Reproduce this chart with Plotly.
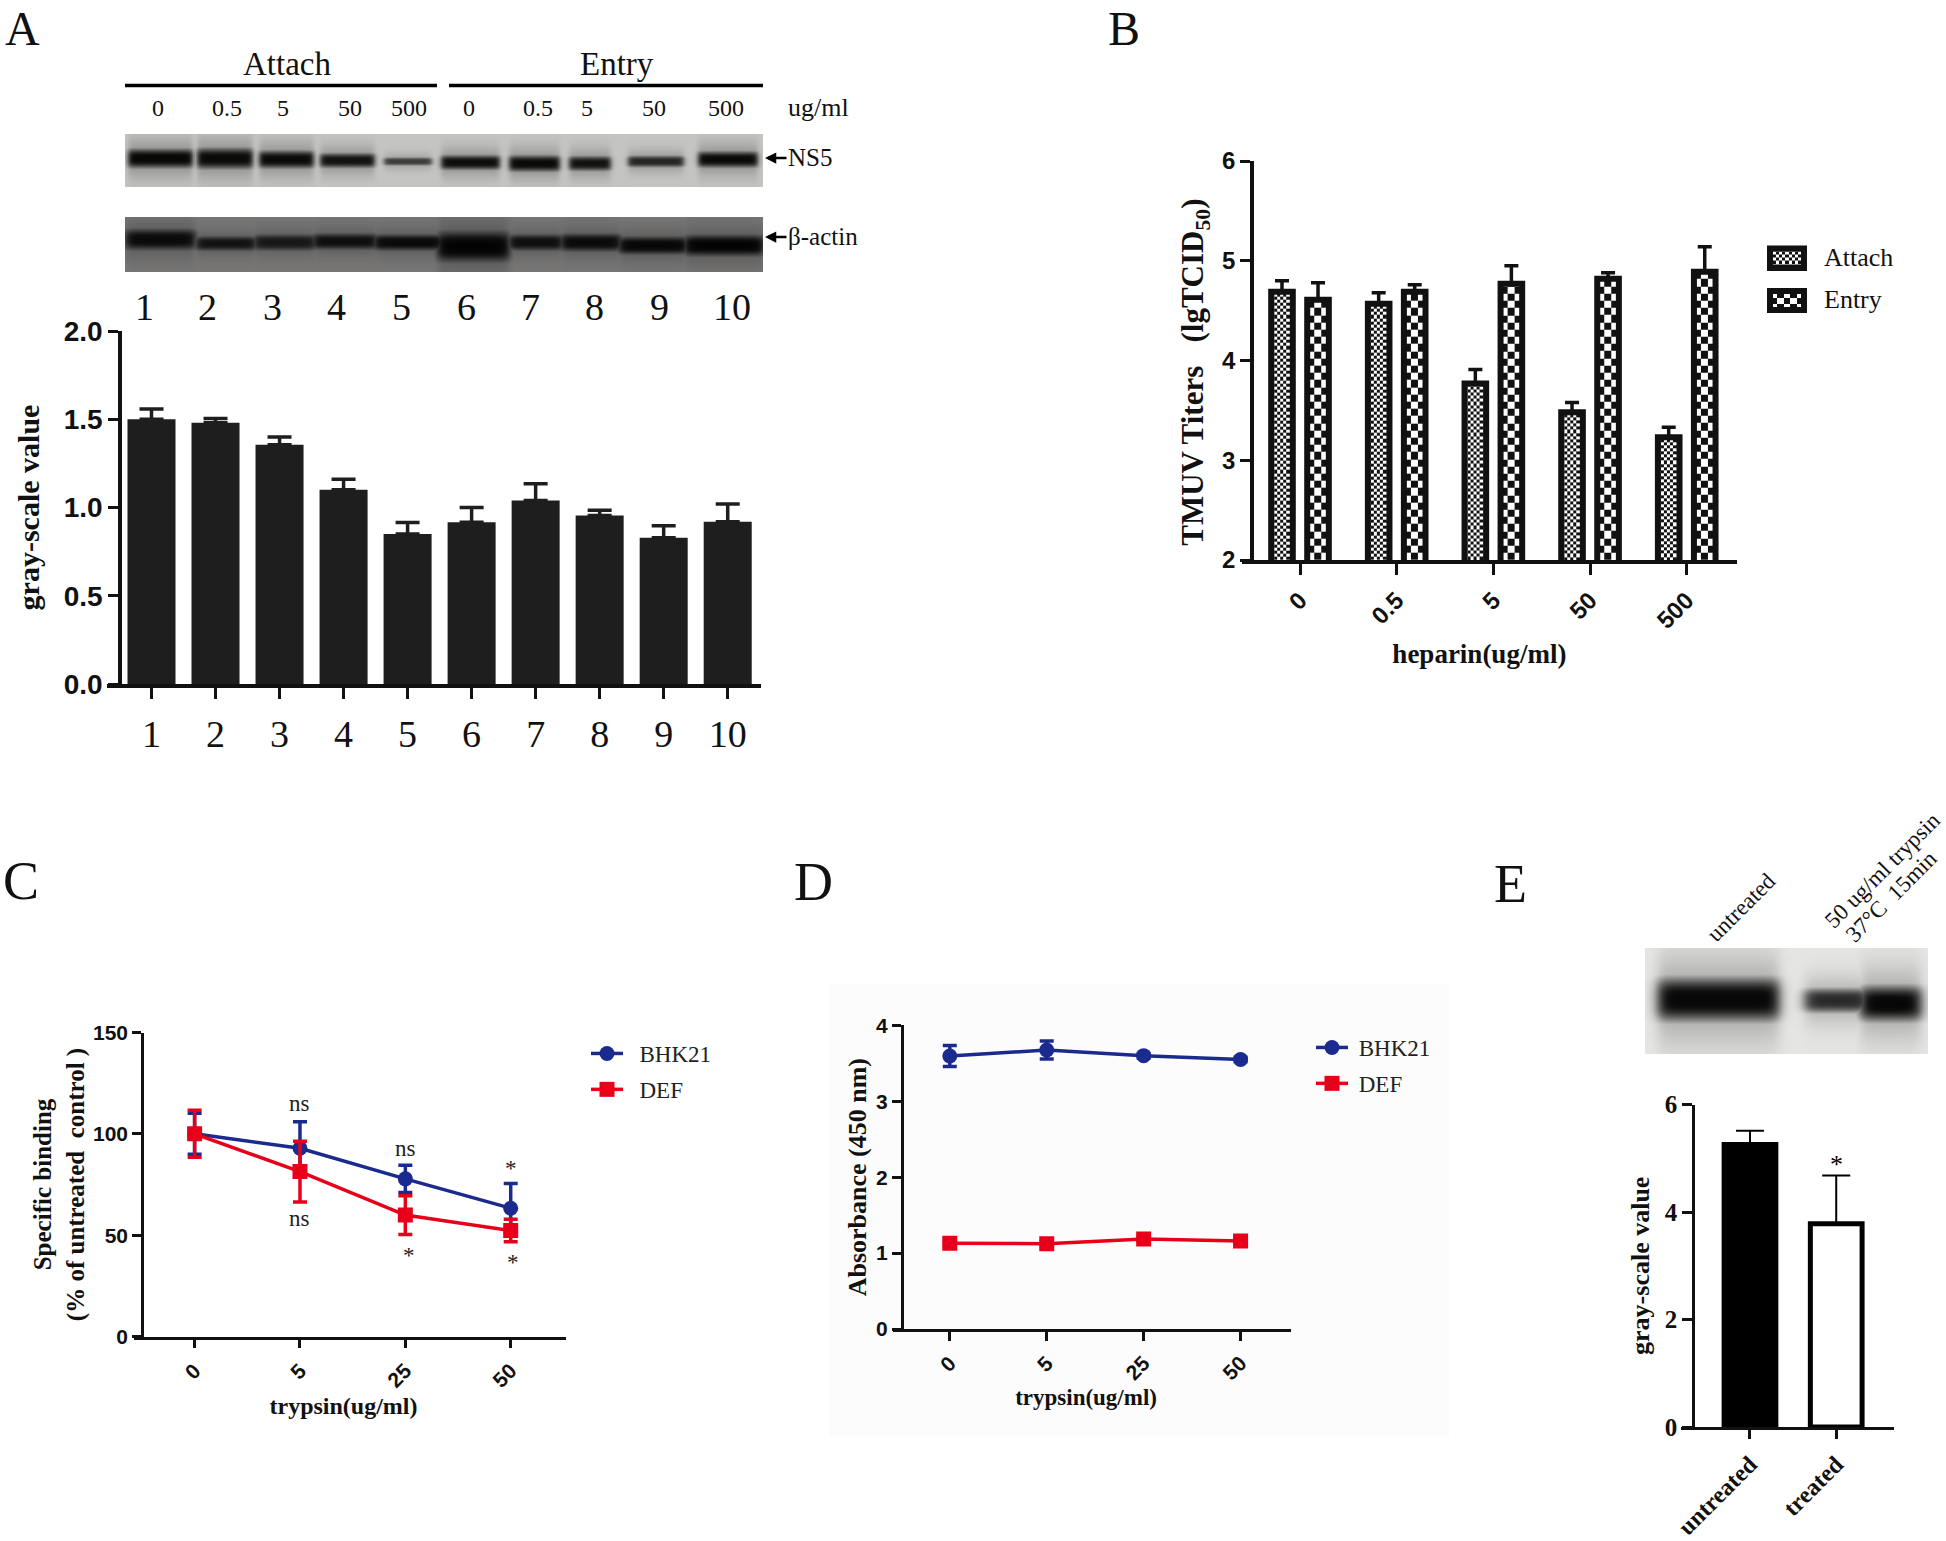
import numpy as np
import plotly.graph_objects as go

W, H = 1946, 1541
SERIF = "Liberation Serif"
SANS = "Liberation Sans"
BLUE = "#1B2A8E"
RED = "#E8001A"
INK = "#1E1E1E"
NB = "\u00a0"

# ---------- Panel A ----------
a_lanes = list(range(1, 11))
a_values = [1.50, 1.48, 1.355, 1.10, 0.85, 0.917, 1.04, 0.955, 0.828, 0.919]
a_errors = [0.058, 0.024, 0.045, 0.06, 0.065, 0.083, 0.094, 0.03, 0.068, 0.101]
a_doses = ["0", "0.5", "5", "50", "500", "0", "0.5", "5", "50", "500"]
a_dose_px = [158, 227, 283, 350, 409, 469, 538, 587, 654, 726]
a_lane_label_px = [144, 207, 272, 336, 401, 466, 530, 594, 659, 732]

# blot bands: left px, right px, centre y px, thickness, darkest gray
ns5_left = [128, 197, 259, 320, 384, 441, 509, 569, 628, 698]
ns5_right = [192, 252, 313, 374, 431, 499, 559, 610, 683, 757]
ns5_y = [158, 158, 159, 160, 161, 162, 163, 163, 161, 159]
ns5_th = [12, 13, 11, 9, 5, 9, 10, 9, 7, 10]
ns5_dark = [10, 15, 15, 25, 70, 20, 15, 25, 45, 15]
actin_left = [125, 195, 253, 312, 373, 437, 508, 560, 618, 684]
actin_right = [195, 256, 316, 377, 443, 509, 563, 621, 687, 763]
actin_y = [239, 243, 242, 241, 242, 246, 242, 242, 245, 245]
actin_th = [13, 9, 10, 10, 10, 19, 10, 11, 11, 13]
actin_dark = [15, 25, 30, 20, 15, 5, 20, 15, 10, 5]

# ---------- Panel B ----------
b_doses = ["0", "0.5", "5", "50", "500"]
b_attach = [4.69, 4.57, 3.77, 3.48, 3.23]
b_attach_err = [0.11, 0.11, 0.14, 0.10, 0.10]
b_entry = [4.61, 4.69, 4.77, 4.82, 4.89]
b_entry_err = [0.17, 0.07, 0.18, 0.06, 0.25]

# ---------- Panel C ----------
c_doses = ["0", "5", "25", "50"]
c_bhk = [100, 92.9, 77.8, 63.3]
c_bhk_err = [10.1, 13.1, 6.7, 12.2]
c_def = [100, 81.4, 59.9, 52.3]
c_def_err = [11.6, 15.0, 9.6, 5.6]
c_notes = ["ns", "ns", "ns", "*", "*", "*"]
c_note_x = [1, 1, 2, 3, 2.03, 3.02]
c_note_y = [115, 58, 92.6, 83, 40, 36.5]

# ---------- Panel D ----------
d_doses = ["0", "5", "25", "50"]
d_bhk = [3.596, 3.675, 3.60, 3.55]
d_bhk_err = [0.138, 0.118, 0.03, 0.03]
d_def = [1.128, 1.124, 1.185, 1.16]
d_def_err = [0.02, 0.02, 0.02, 0.02]

# ---------- Panel E ----------
e_groups = ["untreated", "treated"]
e_values = [5.255, 3.78]
e_errors = [0.255, 0.90]
e_left = [1658, 1805, 1860]
e_right = [1778, 1868, 1920]
e_y = [999, 1000, 1003]
e_th = [27, 15, 22]
e_dark = [10, 50, 8]


def fx(px):
    return px / W


def fy(py):
    return 1 - py / H


def ann(text, x, y, size, family=SERIF, bold=False, angle=0, anchor="center", color="#111"):
    if bold:
        text = f"<b>{text}</b>"
    return dict(text=text, x=fx(x), y=fy(y), xref="paper", yref="paper", showarrow=False,
                xanchor=anchor, yanchor="middle", textangle=angle,
                font=dict(family=family, size=size, color=color))


def arrow_label(text, head_x, y, offset, size):
    return dict(text=text, x=fx(head_x), y=fy(y), xref="paper", yref="paper", showarrow=True,
                ax=offset, ay=0, axref="pixel", ayref="pixel", arrowhead=2, arrowsize=0.9, arrowwidth=2.5,
                arrowcolor="#000", standoff=0, font=dict(family=SERIF, size=size, color="#111"))


def blot(left, right, yc, th, dark, x0, x1, y0, y1, bg, soft, xa, ya):
    xs = np.arange(x0, x1 + 1, 2.0)
    ys = np.arange(y0, y1 + 1, 1.0)
    z = np.full((len(ys), len(xs)), float(bg))
    for l, r, c, t, d in zip(left, right, yc, th, dark):
        ex = 0.5 * (np.tanh((xs - l) / soft) - np.tanh((xs - r) / soft))
        core = np.exp(-np.abs((ys - c) / (t * 0.78)) ** 3)
        halo = 0.25 * np.exp(-((ys - c) / (t * 1.6)) ** 2)
        amount = np.clip(np.outer(np.maximum(core, halo), ex), 0, 1)
        z = np.minimum(z, bg - (bg - d) * amount)
    return go.Heatmap(x=xs, y=ys, z=np.round(z).astype(int), zmin=0, zmax=255, zsmooth="best",
                      colorscale="Gray", showscale=False, hoverinfo="skip", xaxis=xa, yaxis=ya)


def checker(xc, half, y0, y1, dx, dy, xa, ya):
    nx = max(1, int(round(2 * half / dx)))
    ny = max(1, int(np.ceil((y1 - y0) / dy)))
    xe = np.linspace(xc - half, xc + half, nx + 1)
    ye = np.minimum(y0 + dy * np.arange(ny + 1), y1)
    z = (np.add.outer(np.arange(ny), np.arange(nx)) % 2)
    return go.Heatmap(x=xe, y=ye, z=z, zmin=0, zmax=1, colorscale=[[0, "white"], [1, "#111"]],
                      showscale=False, hoverinfo="skip", xaxis=xa, yaxis=ya)


fig = go.Figure()

# blots
fig.add_trace(blot(ns5_left, ns5_right, ns5_y, ns5_th, ns5_dark, 125, 763, 134, 187, 208, 3, "x6", "y6"))
fig.add_trace(blot(actin_left, actin_right, actin_y, actin_th, actin_dark, 125, 763, 217, 272, 135, 5, "x7", "y7"))
fig.add_trace(blot(e_left, e_right, e_y, e_th, e_dark, 1645, 1928, 948, 1054, 236, 7, "x8", "y8"))

# A
fig.add_trace(go.Bar(x=a_lanes, y=a_values, width=0.75, marker=dict(color=INK, line_width=0),
                     error_y=dict(type="data", array=a_errors, arrayminus=[0] * 10, symmetric=False,
                                  thickness=3.5, width=12, color=INK),
                     xaxis="x", yaxis="y", showlegend=False, hoverinfo="skip"))

# B
B_PX_PER_X = 96.6
B_PX_PER_Y = 99.75
B_OFF = 18 / B_PX_PER_X
B_HALF = 10.8 / B_PX_PER_X
for i, (va, ve) in enumerate(zip(b_attach, b_entry)):
    fig.add_trace(checker(i - B_OFF, B_HALF, 2, va, 2 * B_HALF / 7, 3.1 / B_PX_PER_Y, "x2", "y2"))
    fig.add_trace(checker(i + B_OFF, B_HALF, 2, ve, 2 * B_HALF / 3, 7.2 / B_PX_PER_Y, "x2", "y2"))
bar_line = dict(color="#111", width=6)
fig.add_trace(go.Bar(x=list(range(5)), y=b_attach, name="Attach", offsetgroup="a",
                     marker=dict(color="rgba(0,0,0,0)", line=bar_line),
                     error_y=dict(type="data", array=b_attach_err, arrayminus=[0] * 5, symmetric=False,
                                  thickness=3.5, width=7, color="#111"),
                     xaxis="x2", yaxis="y2", showlegend=False, hoverinfo="skip"))
fig.add_trace(go.Bar(x=list(range(5)), y=b_entry, name="Entry", offsetgroup="e",
                     marker=dict(color="rgba(0,0,0,0)", line=bar_line),
                     error_y=dict(type="data", array=b_entry_err, arrayminus=[0] * 5, symmetric=False,
                                  thickness=3.5, width=7, color="#111"),
                     xaxis="x2", yaxis="y2", showlegend=False, hoverinfo="skip"))
# B legend swatches, on an axis in pixels
fig.add_trace(checker(1787, 17, 248.5, 268, 34 / 11, 3.1, "x9", "y9"))
fig.add_trace(checker(1787, 17, 291, 310, 34 / 5, 6.5, "x9", "y9"))


def line_trace(xs, ys, err, name, color, symbol, xa, ya, legend, cap):
    return go.Scatter(x=xs, y=ys, mode="lines+markers", name=name, legend=legend, legendgroup=name + legend,
                      line=dict(color=color, width=3.5),
                      marker=dict(color=color, size=15, symbol=symbol),
                      error_y=dict(type="data", array=err, thickness=3.5, width=cap, color=color),
                      xaxis=xa, yaxis=ya, hoverinfo="skip")


fig.add_trace(line_trace(list(range(4)), c_bhk, c_bhk_err, NB * 2 + "BHK21", BLUE, "circle", "x3", "y3", "legend", 7))
fig.add_trace(line_trace(list(range(4)), c_def, c_def_err, NB * 2 + "DEF", RED, "square", "x3", "y3", "legend", 7))
fig.add_trace(line_trace(list(range(4)), d_bhk, d_bhk_err, NB + "BHK21", BLUE, "circle", "x4", "y4", "legend2", 7))
fig.add_trace(line_trace(list(range(4)), d_def, d_def_err, NB + "DEF", RED, "square", "x4", "y4", "legend2", 7))

# E
fig.add_trace(go.Bar(x=[0, 1], y=e_values, width=0.6,
                     marker=dict(color=["#000", "#fff"], line=dict(color="#000", width=5)),
                     error_y=dict(type="data", array=e_errors, arrayminus=[0, 0], symmetric=False,
                                  thickness=2, width=14, color="#000"),
                     xaxis="x5", yaxis="y5", showlegend=False, hoverinfo="skip"))


def xaxis_cfg(x0, x1, rng, anchor, ticktext, size, family, lw, tl, tw, angle=0, standoff=0, title=None, tsize=24, tstand=None, weight="bold"):
    cfg = dict(domain=[fx(x0), fx(x1)], range=rng, anchor=anchor, tickmode="array",
               tickvals=list(range(len(ticktext))), ticktext=ticktext, showgrid=False, zeroline=False,
               showline=True, linecolor="#111", linewidth=lw, ticks="outside", ticklen=tl, tickwidth=tw,
               tickcolor="#111", tickangle=angle, ticklabelstandoff=standoff,
               tickfont=dict(family=family, size=size, color="#111", weight=weight), fixedrange=True)
    if title:
        cfg["title"] = dict(text=f"<b>{title}</b>", standoff=tstand, font=dict(family=SERIF, size=tsize, color="#111"))
    return cfg


def yaxis_cfg(y_top, y_bot, rng, axis_x, dtick, size, family, lw, tl, tw, title, tsize, tstand, fmt=None):
    cfg = dict(domain=[fy(y_bot), fy(y_top)], range=rng, anchor="free", position=fx(axis_x), dtick=dtick, tick0=0,
               showgrid=False, zeroline=False, showline=True, linecolor="#111", linewidth=lw, ticks="outside",
               ticklen=tl, tickwidth=tw, tickcolor="#111",
               tickfont=dict(family=family, size=size, color="#111", weight="bold"),
               title=dict(text=title, standoff=tstand, font=dict(family=SERIF, size=tsize, color="#111")),
               fixedrange=True)
    if fmt:
        cfg["tickformat"] = fmt
    return cfg


def hidden(x0, x1, y0, y1, xid, yid):
    return {
        f"xaxis{xid}": dict(domain=[fx(x0), fx(x1)], range=[x0, x1], visible=False, anchor=f"y{yid}", fixedrange=True),
        f"yaxis{yid}": dict(domain=[fy(y1), fy(y0)], range=[y1, y0], visible=False, anchor=f"x{xid}", fixedrange=True),
    }


annotations = [
    ann("A", 22, 29, 48), ann("B", 1124, 29, 48), ann("C", 21, 881, 54), ann("D", 813, 882, 54), ann("E", 1510, 884, 54),
    ann("Attach", 287, 64, 33), ann("Entry", 617, 64, 33), ann("ug/ml", 818, 108, 26),
    arrow_label("NS5", 765, 158, 45, 25), arrow_label("β-actin", 765, 237, 58, 25),
    ann("Attach", 1822, 258, 26, anchor="left"), ann("Entry", 1822, 300, 26, anchor="left"),
    ann("untreated", 1741, 907, 23, angle=-45),
    ann("50 ug/ml trypsin", 1882, 870, 23, angle=-45),
    ann("37°C  15min", 1891, 896, 23, angle=-45),
]
for t, px in zip(a_doses, a_dose_px):
    annotations.append(ann(t, px, 108, 24))
for t, px in zip(a_lanes, a_lane_label_px):
    annotations.append(ann(str(t), px, 307, 38))
for t, xv, yv in zip(c_notes, c_note_x, c_note_y):
    annotations.append(dict(text=t, x=xv, y=yv, xref="x3", yref="y3", showarrow=False,
                            font=dict(family=SERIF, size=23, color="#222")))
annotations.append(dict(text="*", x=1, y=4.88, xref="x5", yref="y5", showarrow=False,
                        font=dict(family=SERIF, size=26, color="#000")))

shapes = [
    dict(type="rect", xref="paper", yref="paper", x0=fx(829), x1=fx(1449), y0=fy(1437), y1=fy(984),
         fillcolor="#FCFCFC", line_width=0, layer="below"),
    dict(type="line", xref="paper", yref="paper", x0=fx(125), x1=fx(437), y0=fy(85.5), y1=fy(85.5), line=dict(color="#000", width=3.5)),
    dict(type="line", xref="paper", yref="paper", x0=fx(449), x1=fx(763), y0=fy(85.5), y1=fy(85.5), line=dict(color="#000", width=3.5)),
    dict(type="rect", xref="paper", yref="paper", x0=fx(1770), x1=fx(1804), y0=fy(268), y1=fy(248.5), line=dict(color="#111", width=6)),
    dict(type="rect", xref="paper", yref="paper", x0=fx(1770), x1=fx(1804), y0=fy(310), y1=fy(291), line=dict(color="#111", width=6)),
]

layout = dict(
    width=W, height=H, margin=dict(l=0, r=0, t=0, b=0, autoexpand=False), autosize=False,
    paper_bgcolor="white", plot_bgcolor="rgba(0,0,0,0)", barmode="group",
    bargap=0.2547, bargroupgap=0.4, hovermode=False,
    annotations=annotations, shapes=shapes,
    legend=dict(x=fx(586), y=fy(1032), xanchor="left", yanchor="top", bgcolor="rgba(0,0,0,0)", itemwidth=32,
                font=dict(family=SERIF, size=23, color="#222"), tracegroupgap=3, itemclick=False, itemdoubleclick=False),
    legend2=dict(x=fx(1311), y=fy(1026), xanchor="left", yanchor="top", bgcolor="rgba(0,0,0,0)", itemwidth=32,
                 font=dict(family=SERIF, size=23, color="#222"), tracegroupgap=3, itemclick=False, itemdoubleclick=False),
    # A
    xaxis=xaxis_cfg(107, 761, [0.305, 10.52], "y", [], 38, SERIF, 3.5, 11, 3, weight="normal"),
    yaxis=yaxis_cfg(331, 684, [0, 2], 120, 0.5, 28, SANS, 3.5, 10, 3, "<b>gray-scale value</b>", 30, 14, ".1f"),
    # B
    xaxis2=xaxis_cfg(1242, 1737, [-0.60, 4.52], "y2", b_doses, 24, SANS, 3.5, 11, 3, angle=-45, standoff=2,
                     title="heparin(ug/ml)" + NB * 3, tsize=27, tstand=12),
    yaxis2=yaxis_cfg(161, 560, [2, 6], 1252, 1, 24, SANS, 3.5, 10, 3,
                     "<b>TMUV Titers   (lgTCID<sub>50</sub>)" + NB * 3 + "</b>", 31, 8),
    # C
    xaxis3=xaxis_cfg(133.5, 565.5, [-0.58, 3.52], "y3", c_doses, 21, SANS, 2.5, 9, 2.5, angle=-45, standoff=2,
                     title="trypsin(ug/ml)" + NB * 2, tsize=24, tstand=7),
    yaxis3=yaxis_cfg(1032.5, 1336.5, [0, 150], 142, 50, 21, SANS, 2.5, 9, 2.5,
                     "<b>Specific binding<br>(% of untreated  control )</b>", 25, 0),
    # D
    xaxis4=xaxis_cfg(892.6, 1291, [-0.59, 3.52], "y4", d_doses, 21, SANS, 2.5, 9, 2.5, angle=-45, standoff=2,
                     title="trypsin(ug/ml)" + NB * 2, tsize=23, tstand=6),
    yaxis4=yaxis_cfg(1025.3, 1329, [0, 4], 901.6, 1, 21, SANS, 2.5, 9, 2.5, "<b>Absorbance (450 nm)</b>", 26, 0),
    # E
    xaxis5=xaxis_cfg(1681, 1894, [-0.80, 1.67], "y5", e_groups, 24, SERIF, 2.5, 9, 3, angle=-45, standoff=2),
    yaxis5=yaxis_cfg(1104.5, 1427, [0, 6], 1693, 2, 25, SERIF, 2.5, 10, 2.5, "<b>gray-scale value</b>", 26, 6),
)
layout["xaxis"]["tickvals"] = a_lanes
layout["xaxis"]["ticktext"] = [str(v) for v in a_lanes]
layout["xaxis"]["ticklabelstandoff"] = 3
layout.update(hidden(125, 763, 134, 187, 6, 6))
layout.update(hidden(125, 763, 217, 272, 7, 7))
layout.update(hidden(1645, 1928, 948, 1054, 8, 8))
layout.update(hidden(1760, 1815, 240, 320, 9, 9))
fig.update_layout(**layout)

fig.write_html("out.html", config=dict(displayModeBar=False),
               post_script="document.body.style.margin='0';document.body.style.overflow='hidden';")
